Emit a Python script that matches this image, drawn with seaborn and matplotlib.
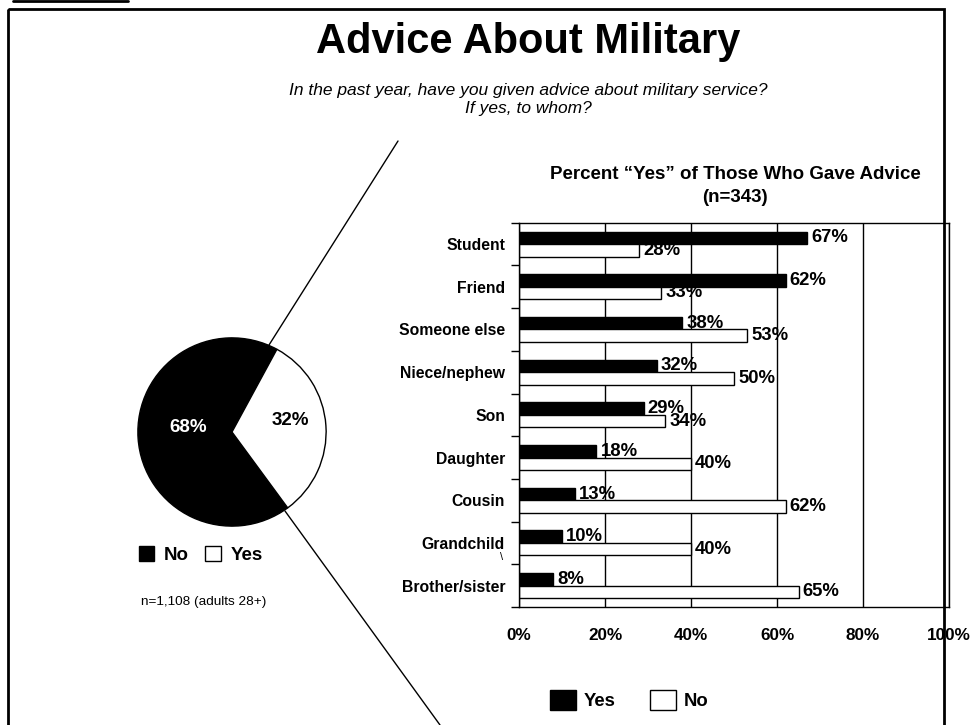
import numpy as np
import pandas as pd
import seaborn as sns
import matplotlib.pyplot as plt
from matplotlib.patches import Patch, Rectangle

# data
categories = ["Student", "Friend", "Someone else", "Niece/nephew", "Son",
              "Daughter", "Cousin", "Grandchild", "Brother/sister"]
yes_pct = [67, 62, 38, 32, 29, 18, 13, 10, 8]
no_pct = [28, 33, 53, 50, 34, 40, 62, 40, 65]
pie_labels = ["No", "Yes"]
pie_values = [68, 32]
x_ticks = [0, 20, 40, 60, 80, 100]

sns.set_theme(style="white")
plt.rcParams['font.family'] = ['Liberation Sans', 'DejaVu Sans']
plt.rcParams.update({"text.color": "black", "axes.labelcolor": "black",
                     "xtick.color": "black", "ytick.color": "black"})

W, H = 971, 725
fig = plt.figure(figsize=(W / 100, H / 100), dpi=100)


def fx(px):
    return px / W


def fy(py):
    return 1 - py / H


# long-form table for seaborn
df = pd.DataFrame({
    "Category": categories * 2,
    "Response": ["Yes"] * len(categories) + ["No"] * len(categories),
    "Percent": yes_pct + no_pct,
})

# ---- bar chart ----
ax = fig.add_axes([fx(519), fy(607), fx(949) - fx(519), fy(222.7) - fy(607)])
sns.barplot(data=df, y="Category", x="Percent", hue="Response",
            hue_order=["Yes", "No"], palette={"Yes": "black", "No": "white"},
            edgecolor="black", linewidth=1, width=0.584, orient="h",
            legend=False, ax=ax)
ax.set_xlim(0, 100)
ax.set_ylim(len(categories) - 0.5, -0.5)
ax.set_xlabel("")
ax.set_ylabel("")
ax.set_xticks(x_ticks)
ax.set_xticklabels([f"{t}%" for t in x_ticks], fontsize=12.3, fontweight="bold")
ax.tick_params(axis="x", length=0, pad=15, colors="black")
ax.set_yticks(range(len(categories)))
ax.set_yticklabels(categories, fontsize=11.3, fontweight="bold")
ax.set_yticks(np.arange(-0.5, len(categories)), minor=True)
ax.tick_params(axis="y", which="major", length=0, pad=10, colors="black")
ax.tick_params(axis="y", which="minor", length=6, width=1, color="black",
               direction="out", left=True)
ax.xaxis.grid(True, color="black", linewidth=1)
ax.yaxis.grid(False)
ax.set_axisbelow(True)
for s in ax.spines.values():
    s.set_visible(True)
    s.set_color("black")
    s.set_linewidth(1)

for cont in ax.containers:
    ax.bar_label(cont, fmt="%g%%", padding=3, fontsize=13.3,
                 fontweight="bold", color="black")

# ---- pie ----
r = 96
pax = fig.add_axes([fx(232 - r), fy(432 + r), fx(2 * r), fy(0) - fy(2 * r)])
wedges, _, autotexts = pax.pie(pie_values, colors=["black", "white"],
                               startangle=61.5, autopct="%.0f%%",
                               wedgeprops=dict(edgecolor="black", linewidth=1))
pax.set_xlim(-1.02, 1.02)
pax.set_ylim(-1.02, 1.02)
pax.axis("off")
for w, t, dist, col in zip(wedges, autotexts, [0.47, 0.62], ["white", "black"]):
    ang = np.deg2rad((w.theta1 + w.theta2) / 2)
    t.set_position((dist * np.cos(ang), dist * np.sin(ang) + 0.08))
    t.set_color(col)
    t.set_fontsize(13.5)
    t.set_fontweight("bold")

fig.legend([Patch(facecolor=c, edgecolor="black") for c in ["black", "white"]],
           pie_labels, loc="center", bbox_to_anchor=(fx(200.5), fy(555)),
           ncol=2, frameon=False, handlelength=0.85, handleheight=0.85,
           handletextpad=0.48, columnspacing=0.9,
           prop={"weight": "bold", "size": 13.5})

fig.legend([Patch(facecolor=c, edgecolor="black") for c in ["black", "white"]],
           ["Yes", "No"], loc="center", bbox_to_anchor=(fx(629), fy(700)),
           ncol=2, frameon=False, handlelength=1.4, handleheight=1.35,
           handletextpad=0.43, columnspacing=1.85,
           prop={"weight": "bold", "size": 13.3})

# ---- texts ----
fig.text(fx(528), fy(42), "Advice About Military", ha="center", va="center",
         fontsize=30, fontweight="bold")
fig.text(fx(528), fy(99.5),
         "In the past year, have you given advice about military service?\nIf yes, to whom?",
         ha="center", va="center", fontsize=12.5, style="italic")
fig.text(fx(735), fy(186), "Percent \u201cYes\u201d of Those Who Gave Advice\n(n=343)",
         ha="center", va="center", fontsize=13.5, fontweight="bold",
         linespacing=1.45)
fig.text(fx(203.5), fy(602), "n=1,108 (adults 28+)", ha="center", va="center",
         fontsize=9.7)
fig.text(fx(502), fy(557), "\\", ha="center", va="center", fontsize=8)

# ---- frame and connector lines ----
over = fig.add_axes([0, 0, 1, 1], facecolor="none")
over.set_xlim(0, W)
over.set_ylim(H, 0)
over.axis("off")
over.add_patch(Rectangle((8, 9), 936, 730, fill=False, edgecolor="black",
                         linewidth=2, clip_on=False))
over.plot([13, 128], [1, 1], color="black", linewidth=2)
over.plot([269, 398], [345, 141], color="black", linewidth=1)
over.plot([285, 440], [511, 725], color="black", linewidth=1)

fig.savefig("out.png", dpi=100, facecolor="white")
